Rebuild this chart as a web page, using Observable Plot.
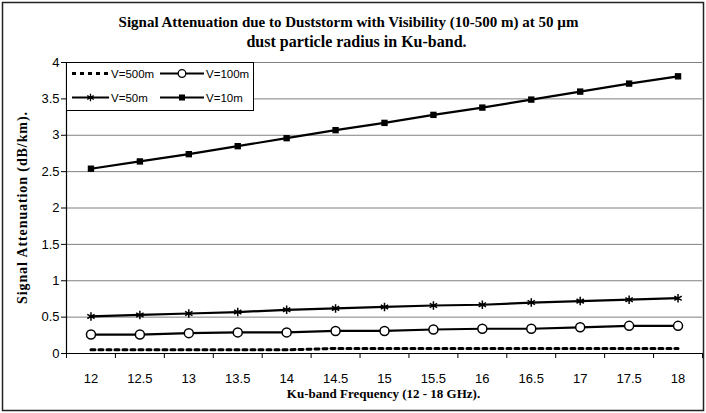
<!DOCTYPE html>
<html><head><meta charset="utf-8">
<script src="https://cdn.jsdelivr.net/npm/d3@7"></script>
<script src="https://cdn.jsdelivr.net/npm/@observablehq/plot@0.6"></script>
<style>
body{margin:0;background:#fff;overflow:hidden}
#wrap{position:relative;width:706px;height:413px;overflow:hidden;background:#fff}
#wrap svg{position:absolute;left:0;top:0}
</style></head><body><div id="wrap"></div>
<script>
// ---- data ----
const freqs = [12, 12.5, 13, 13.5, 14, 14.5, 15, 15.5, 16, 16.5, 17, 17.5, 18];
const v500 = [0.05, 0.05, 0.05, 0.05, 0.05, 0.07, 0.07, 0.07, 0.07, 0.07, 0.07, 0.07, 0.07];
const v100 = [0.26, 0.26, 0.28, 0.29, 0.29, 0.31, 0.31, 0.33, 0.34, 0.34, 0.36, 0.38, 0.38];
const v50  = [0.51, 0.53, 0.55, 0.57, 0.60, 0.62, 0.64, 0.66, 0.67, 0.70, 0.72, 0.74, 0.76];
const v10  = [2.54, 2.64, 2.74, 2.85, 2.96, 3.07, 3.17, 3.28, 3.38, 3.49, 3.60, 3.71, 3.81];
const seriesNames = ["V=500m", "V=100m", "V=50m", "V=10m"];
const yTicks = [0, 0.5, 1, 1.5, 2, 2.5, 3, 3.5, 4];
const titleLines = ["Signal Attenuation due to Duststorm with Visibility (10-500 m) at 50 \u00b5m", "dust particle radius in Ku-band."];
const xLabel = "Ku-band Frequency (12 - 18 GHz).";
const yLabel = "Signal Attenuation (dB/km).";

const rows = (vals) => freqs.map((f, i) => ({f, v: vals[i]}));
const d500 = rows(v500), d100 = rows(v100), d50 = rows(v50), d10 = rows(v10);
// category boundaries (Excel-style ticks between categories)
const bounds = [freqs[0] - 0.25, ...freqs.map(f => f + 0.25)];

const serif = "'Liberation Serif','Times New Roman',serif";
const sans = "'Liberation Sans',Arial,sans-serif";

const chart = Plot.plot({
  width: 706, height: 413,
  marginLeft: 66, marginRight: 4, marginTop: 62, marginBottom: 60,
  style: {fontFamily: sans, fontSize: "13px", color: "black", background: "transparent"},
  x: {domain: [11.75, 18.25], axis: null},
  y: {domain: [0, 4], axis: null},
  marks: [
    Plot.ruleY(yTicks.filter(d => d > 0), {stroke: "#808080", strokeWidth: 1}),
    Plot.axisY({ticks: yTicks, tickSize: 5, tickPadding: 2, tickFormat: d => String(d), label: null, fontSize: 13, stroke: "black"}),
    Plot.axisX({ticks: freqs, tickSize: 0, tickPadding: 20, tickFormat: d => String(d), label: null, fontSize: 13}),
    Plot.axisX({ticks: bounds, tickSize: 5, tickFormat: () => "", label: null, stroke: "black"}),
    Plot.ruleX([11.75], {y1: 0, y2: 4, stroke: "black", strokeWidth: 1.2}),
    Plot.ruleY([0], {stroke: "black", strokeWidth: 1.2}),
    Plot.line(d500, {x: "f", y: "v", stroke: "black", strokeWidth: 3, strokeDasharray: "4,4"}),
    Plot.line(d100, {x: "f", y: "v", stroke: "black", strokeWidth: 2.2}),
    Plot.dot(d100, {x: "f", y: "v", r: 4.5, fill: "white", stroke: "black", strokeWidth: 1.5}),
    Plot.line(d50, {x: "f", y: "v", stroke: "black", strokeWidth: 2.2}),
    Plot.dot(d50, {x: "f", y: "v", symbol: "asterisk", r: 4, stroke: "black", strokeWidth: 1.5}),
    Plot.line(d10, {x: "f", y: "v", stroke: "black", strokeWidth: 2.2}),
    Plot.dot(d10, {x: "f", y: "v", symbol: "square", r: 3.6, fill: "black", stroke: "none"}),
    Plot.text([titleLines[0]], {frameAnchor: "top", dy: -46, dx: -36, fontFamily: serif, fontWeight: "bold", fontSize: 15}),
    Plot.text([titleLines[1]], {frameAnchor: "top", dy: -27, dx: -28, fontFamily: serif, fontWeight: "bold", fontSize: 16}),
    Plot.text([xLabel], {frameAnchor: "bottom", dy: 44, dx: -1, fontFamily: serif, fontWeight: "bold", fontSize: 13})
  ]
});
const wrap = document.getElementById("wrap");
wrap.appendChild(chart);

// outer frame + y label
const frame = d3.select(wrap).append("svg").attr("width", 706).attr("height", 413).style("pointer-events", "none");
frame.append("rect").attr("x", 2.5).attr("y", 2.5).attr("width", 701).attr("height", 408)
  .attr("fill", "none").attr("stroke", "#222").attr("stroke-width", 1.5);
frame.append("text").attr("transform", "translate(22,208) rotate(-90)")
  .attr("text-anchor", "middle").attr("dy", "0.35em")
  .attr("font-family", serif).attr("font-weight", "bold").attr("font-size", 14)
  .attr("textLength", 192).attr("lengthAdjust", "spacing").text(yLabel);

// legend
const lg = d3.select(wrap).append("svg").attr("width", 189).attr("height", 50)
  .style("left", "66px").style("top", "62px");
lg.append("rect").attr("x", 0.5).attr("y", 0.5).attr("width", 187).attr("height", 48)
  .attr("fill", "white").attr("stroke", "black");
const items = [
  {name: seriesNames[0], x: 6, len: 37, y: 11.5, dash: "4,4", w: 3, sym: null},
  {name: seriesNames[1], x: 94, len: 44, y: 11.5, dash: null, w: 2, sym: "circle"},
  {name: seriesNames[2], x: 6, len: 37, y: 35.5, dash: null, w: 2, sym: "asterisk"},
  {name: seriesNames[3], x: 94, len: 44, y: 35.5, dash: null, w: 2, sym: "square"}
];
for (const it of items) {
  lg.append("line").attr("x1", it.x).attr("x2", it.x + it.len).attr("y1", it.y).attr("y2", it.y)
    .attr("stroke", "black").attr("stroke-width", it.w).attr("stroke-dasharray", it.dash);
  const cx = it.x + it.len / 2;
  if (it.sym === "circle") lg.append("circle").attr("cx", cx).attr("cy", it.y).attr("r", 3.8).attr("fill", "white").attr("stroke", "black").attr("stroke-width", 1.3);
  if (it.sym === "asterisk") lg.append("path").attr("transform", `translate(${cx},${it.y})`).attr("d", d3.symbol(d3.symbolAsterisk, 40)()).attr("fill", "none").attr("stroke", "black").attr("stroke-width", 1.3);
  if (it.sym === "square") lg.append("rect").attr("x", cx - 3).attr("y", it.y - 3).attr("width", 6).attr("height", 6).attr("fill", "black");
  lg.append("text").attr("x", it.x + it.len + 2).attr("y", it.y).attr("dy", "0.35em").attr("font-family", sans).attr("font-size", 11.5).text(it.name);
}
</script></body></html>
